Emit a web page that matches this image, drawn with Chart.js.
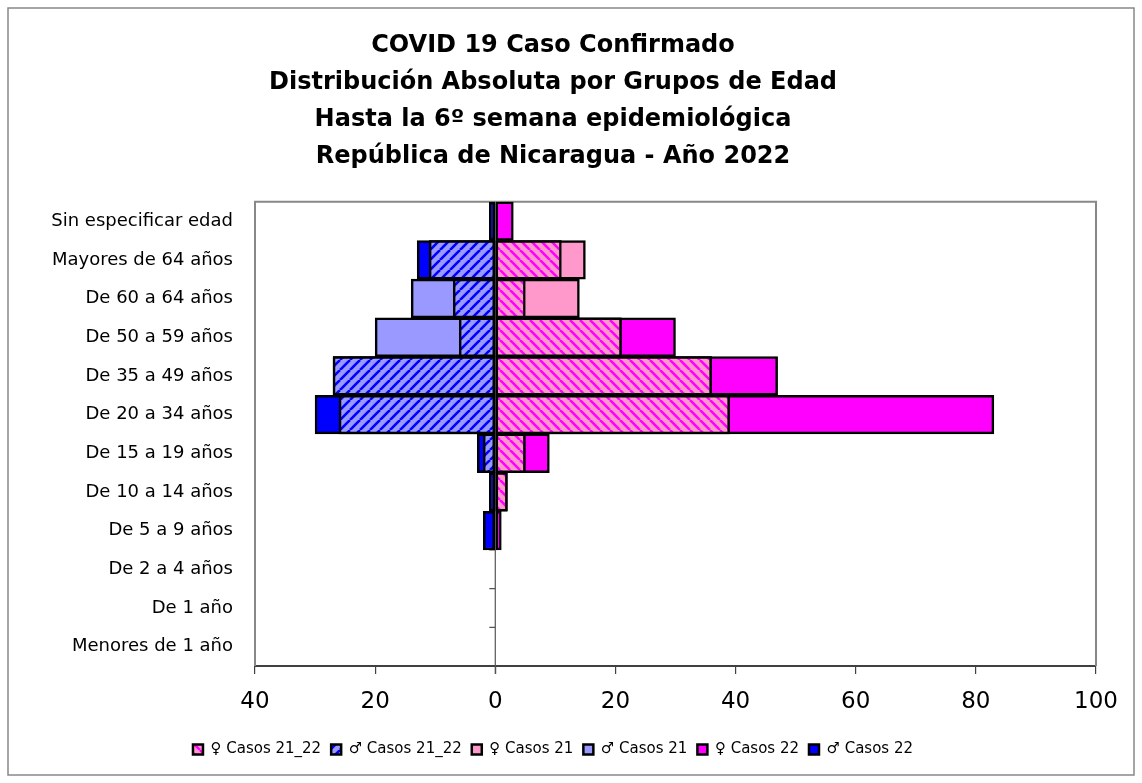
<!DOCTYPE html>
<html>
<head>
<meta charset="utf-8">
<script src="https://cdn.jsdelivr.net/npm/chart.js@4"></script>
<style>
  html, body { margin: 0; padding: 0; background: #fff; }
  #wrap { width: 1142px; height: 783px; position: relative; }
</style>
</head>
<body>
<div id="wrap"><canvas id="pyramid" width="1142" height="783"></canvas></div>
<script>
    const titleLines = [
      'COVID 19 Caso Confirmado',
      'Distribución Absoluta por Grupos de Edad',
      'Hasta la 6º semana epidemiológica',
      'República de Nicaragua - Año 2022'
    ];
    const ageGroups = [
      'Sin especificar edad', 'Mayores de 64 años', 'De 60 a 64 años', 'De 50 a 59 años',
      'De 35 a 49 años', 'De 20 a 34 años', 'De 15 a 19 años', 'De 10 a 14 años',
      'De 5 a 9 años', 'De 2 a 4 años', 'De 1 año', 'Menores de 1 año'
    ];
    const seriesNames = ['♀ Casos 21_22', '♂ Casos 21_22', '♀ Casos 21', '♂ Casos 21', '♀ Casos 22', '♂ Casos 22'];
    const female2122 = [0, 11, 5, 21, 36, 39, 5, 2, 0, 0, 0, 0];
    const male2122   = [0, 11, 7, 6, 27, 26, 2, 0, 0, 0, 0, 0];
    const female21   = [0, 15, 14, 21, 36, 39, 5, 2, 0, 0, 0, 0];
    const male21     = [0, 11, 14, 20, 27, 26, 2, 0, 0, 0, 0, 0];
    const female22   = [3, 11, 5, 30, 47, 83, 9, 2, 1, 0, 0, 0];
    const male22     = [1, 13, 7, 6, 27, 30, 3, 1, 2, 0, 0, 0];
    const xTicks = [-40, -20, 0, 20, 40, 60, 80, 100];

    function stripes(bg, fg, rising) {
      const s = 10;
      const c = document.createElement('canvas');
      c.width = s; c.height = s;
      const g = c.getContext('2d');
      g.fillStyle = bg;
      g.fillRect(0, 0, s, s);
      g.strokeStyle = fg;
      g.lineWidth = 2.6;
      for (let k = -1; k <= 1; k++) {
        g.beginPath();
        if (rising) { g.moveTo(k * s, s); g.lineTo(k * s + s, 0); }
        else { g.moveTo(k * s, 0); g.lineTo(k * s + s, s); }
        g.stroke();
      }
      return g.createPattern(c, 'repeat');
    }

    const pinkHatch = stripes('#ff99cc', '#ff00ff', false);
    const blueHatch = stripes('#9999ff', '#0000ff', true);

    const fem = arr => arr.map(v => v === 0 ? null : v);
    const mal = arr => arr.map(v => v === 0 ? null : -v);

    function barSet(i, data, fill) {
      return {
        label: seriesNames[i],
        data,
        backgroundColor: fill,
        borderColor: '#000',
        borderWidth: 2.5,
        borderSkipped: false,
        categoryPercentage: 1,
        barPercentage: 1
      };
    }

    const framePlugin = {
      id: 'frame',
      beforeDatasetsDraw(chart) {
        const { ctx, chartArea: a, scales } = chart;
        const x0 = scales.x.getPixelForValue(0);
        const y = scales.y;
        ctx.save();
        ctx.strokeStyle = '#555';
        ctx.lineWidth = 1.2;
        ctx.beginPath();
        ctx.moveTo(x0, a.top);
        ctx.lineTo(x0, a.bottom + 8);
        for (let i = 0; i < ageGroups.length - 1; i++) {
          const yb = (y.getPixelForValue(i) + y.getPixelForValue(i + 1)) / 2;
          ctx.moveTo(x0 - 6, yb);
          ctx.lineTo(x0, yb);
        }
        ctx.stroke();
        ctx.strokeStyle = '#888';
        ctx.lineWidth = 2;
        ctx.beginPath();
        ctx.moveTo(a.left, a.bottom);
        ctx.lineTo(a.left, a.top);
        ctx.lineTo(a.right, a.top);
        ctx.lineTo(a.right, a.bottom);
        ctx.stroke();
        ctx.restore();
      },
      afterDraw(chart) {
        const ctx = chart.ctx;
        ctx.save();
        ctx.strokeStyle = '#888';
        ctx.lineWidth = 1.5;
        ctx.strokeRect(8, 8, 1126, 767);
        ctx.restore();
      }
    };

    new Chart(document.getElementById('pyramid'), {
      type: 'bar',
      data: {
        labels: ageGroups,
        datasets: [
          barSet(0, fem(female2122), pinkHatch),
          barSet(1, mal(male2122), blueHatch),
          barSet(2, fem(female21), '#ff99cc'),
          barSet(3, mal(male21), '#9999ff'),
          barSet(4, fem(female22), '#ff00ff'),
          barSet(5, mal(male22), '#0000ff')
        ]
      },
      plugins: [framePlugin],
      options: {
        indexAxis: 'y',
        grouped: false,
        responsive: false,
        animation: false,
        layout: { padding: { left: 10, right: 46, top: 10, bottom: 16 } },
        scales: {
          x: {
            min: -40,
            max: 100,
            stacked: false,
            afterBuildTicks: s => { s.ticks = xTicks.map(v => ({ value: v })); },
            afterFit: s => { s.height = 66; },
            ticks: {
              callback: v => Math.abs(v),
              color: '#000',
              padding: 14,
              maxRotation: 0,
              font: { family: 'DejaVu Sans', size: 23 }
            },
            grid: { drawOnChartArea: false, tickLength: 8, color: '#404040', lineWidth: 1.2 },
            border: { display: true, color: '#404040', width: 2 }
          },
          y: {
            afterFit: s => { s.width = 245; },
            ticks: {
              color: '#000',
              padding: 14,
              font: { family: 'DejaVu Sans', size: 18 }
            },
            grid: { display: false },
            border: { display: false }
          }
        },
        plugins: {
          tooltip: { enabled: false },
          title: {
            display: true,
            text: titleLines,
            color: '#000',
            font: { family: 'DejaVu Sans', size: 24, weight: 'bold', lineHeight: 1.54 },
            padding: { top: 17, bottom: 27 }
          },
          legend: {
            position: 'bottom',
            labels: {
              color: '#000',
              boxWidth: 10,
              boxHeight: 10,
              padding: 10,
              font: { family: 'DejaVu Sans', size: 15 }
            }
          }
        }
      }
    });
</script>
</body>
</html>
